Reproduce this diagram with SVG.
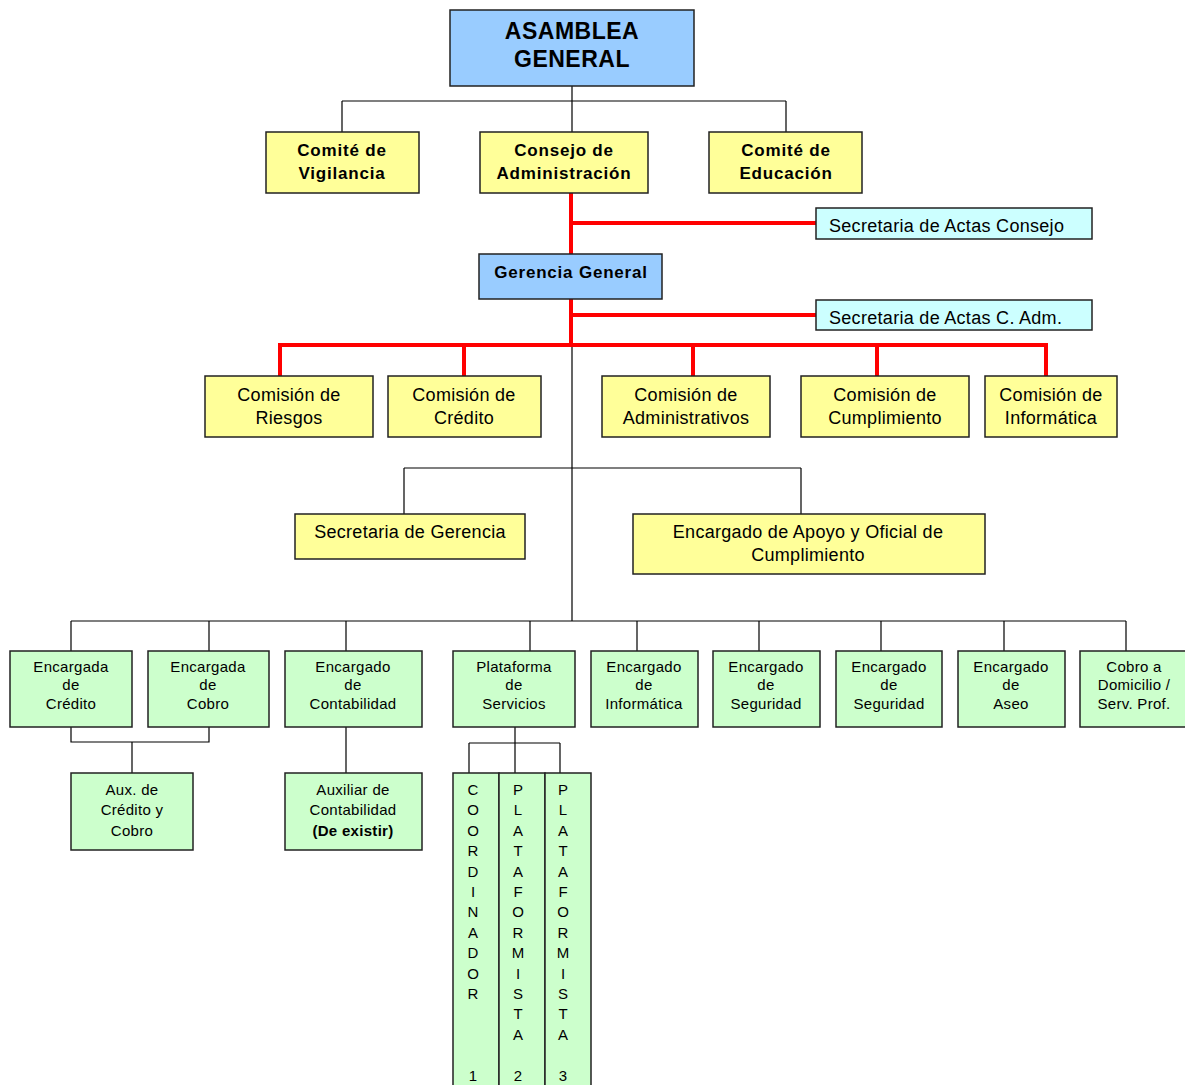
<svg xmlns="http://www.w3.org/2000/svg" width="1185" height="1085" viewBox="0 0 1185 1085">
<style>
.b{stroke:#222;stroke-width:1.5}
.blue{fill:#99ccff}.yel{fill:#ffff99}.cy{fill:#ccffff}.gr{fill:#ccffcc}
text{font-family:"Liberation Sans",Arial,sans-serif;fill:#000;text-anchor:middle}
.t1{font-size:23px;font-weight:bold;letter-spacing:0.5px}
.t2{font-size:17px;font-weight:bold;letter-spacing:0.8px}
.t3{font-size:18px;letter-spacing:0.3px}
.t4{font-size:15px;letter-spacing:0.3px}
.v{font-size:15px}
.k{fill:none;stroke:#000;stroke-width:1.2}
.r{fill:none;stroke:#ff0000;stroke-width:4}
</style>
<rect width="1185" height="1085" fill="#fff"/>
<g id="connectors">
<path class="k" d="M572 86V101M342 101H786M342 101V132M572 101V132M786 101V132"/>
<path class="k" d="M572 345V621M404 468H801M404 468V514M801 468V514"/>
<path class="k" d="M71 621H1126M71 621V651M209 621V651M346 621V651M530 621V651M637 621V651M759 621V651M881 621V651M1004 621V651M1126 621V651"/>
<path class="k" d="M71 727V742H209V727M132 742V773M346 727V773"/>
<path class="k" d="M515 727V743M469 743H560M469 743V773M515 743V773M560 743V773"/>
<path class="r" d="M571 193V254M571 223H816M571 299V345M571 315H816M280 376V345H1046V376M464 345V376M693 345V376M877 345V376"/>
</g>
<g id="asamblea"><rect class="b blue" x="450" y="10" width="244" height="76"/><text class="t1" x="572" y="39">ASAMBLEA</text><text class="t1" x="572" y="67">GENERAL</text></g>
<g id="vigilancia"><rect class="b yel" x="266" y="132" width="153" height="61"/><text class="t2" x="342" y="156">Comité de</text><text class="t2" x="342" y="179">Vigilancia</text></g>
<g id="consejo"><rect class="b yel" x="480" y="132" width="168" height="61"/><text class="t2" x="564" y="156">Consejo de</text><text class="t2" x="564" y="179">Administración</text></g>
<g id="educacion"><rect class="b yel" x="709" y="132" width="153" height="61"/><text class="t2" x="786" y="156">Comité de</text><text class="t2" x="786" y="179">Educación</text></g>
<g id="sec-consejo"><rect class="b cy" x="816" y="208" width="276" height="31"/><text class="t3" x="829" y="232" style="text-anchor:start">Secretaria de Actas Consejo</text></g>
<g id="gerencia"><rect class="b blue" x="479" y="254" width="183" height="45"/><text class="t2" x="571" y="278">Gerencia General</text></g>
<g id="sec-cadm"><rect class="b cy" x="816" y="300" width="276" height="30"/><text class="t3" x="829" y="324" style="text-anchor:start">Secretaria de Actas C. Adm.</text></g>
<g id="c-riesgos"><rect class="b yel" x="205" y="376" width="168" height="61"/><text class="t3" x="289" y="401">Comisión de</text><text class="t3" x="289" y="424">Riesgos</text></g>
<g id="c-credito"><rect class="b yel" x="388" y="376" width="153" height="61"/><text class="t3" x="464" y="401">Comisión de</text><text class="t3" x="464" y="424">Crédito</text></g>
<g id="c-admin"><rect class="b yel" x="602" y="376" width="168" height="61"/><text class="t3" x="686" y="401">Comisión de</text><text class="t3" x="686" y="424">Administrativos</text></g>
<g id="c-cumpl"><rect class="b yel" x="801" y="376" width="168" height="61"/><text class="t3" x="885" y="401">Comisión de</text><text class="t3" x="885" y="424">Cumplimiento</text></g>
<g id="c-info"><rect class="b yel" x="985" y="376" width="132" height="61"/><text class="t3" x="1051" y="401">Comisión de</text><text class="t3" x="1051" y="424">Informática</text></g>
<g id="sec-gerencia"><rect class="b yel" x="295" y="514" width="230" height="45"/><text class="t3" x="410" y="538">Secretaria de Gerencia</text></g>
<g id="apoyo"><rect class="b yel" x="633" y="514" width="352" height="60"/><text class="t3" x="808" y="538">Encargado de Apoyo y Oficial de</text><text class="t3" x="808" y="561">Cumplimiento</text></g>
<g id="e-credito"><rect class="b gr" x="10" y="651" width="122" height="76"/><text class="t4" x="71" y="672">Encargada</text><text class="t4" x="71" y="690">de</text><text class="t4" x="71" y="709">Crédito</text></g>
<g id="e-cobro"><rect class="b gr" x="148" y="651" width="121" height="76"/><text class="t4" x="208" y="672">Encargada</text><text class="t4" x="208" y="690">de</text><text class="t4" x="208" y="709">Cobro</text></g>
<g id="e-conta"><rect class="b gr" x="285" y="651" width="137" height="76"/><text class="t4" x="353" y="672">Encargado</text><text class="t4" x="353" y="690">de</text><text class="t4" x="353" y="709">Contabilidad</text></g>
<g id="plataforma"><rect class="b gr" x="453" y="651" width="122" height="76"/><text class="t4" x="514" y="672">Plataforma</text><text class="t4" x="514" y="690">de</text><text class="t4" x="514" y="709">Servicios</text></g>
<g id="e-info"><rect class="b gr" x="591" y="651" width="107" height="76"/><text class="t4" x="644" y="672">Encargado</text><text class="t4" x="644" y="690">de</text><text class="t4" x="644" y="709">Informática</text></g>
<g id="e-seg1"><rect class="b gr" x="713" y="651" width="107" height="76"/><text class="t4" x="766" y="672">Encargado</text><text class="t4" x="766" y="690">de</text><text class="t4" x="766" y="709">Seguridad</text></g>
<g id="e-seg2"><rect class="b gr" x="836" y="651" width="106" height="76"/><text class="t4" x="889" y="672">Encargado</text><text class="t4" x="889" y="690">de</text><text class="t4" x="889" y="709">Seguridad</text></g>
<g id="e-aseo"><rect class="b gr" x="958" y="651" width="107" height="76"/><text class="t4" x="1011" y="672">Encargado</text><text class="t4" x="1011" y="690">de</text><text class="t4" x="1011" y="709">Aseo</text></g>
<g id="cobro-dom"><rect class="b gr" x="1080" y="651" width="108" height="76"/><text class="t4" x="1134" y="672">Cobro a</text><text class="t4" x="1134" y="690">Domicilio /</text><text class="t4" x="1134" y="709">Serv. Prof.</text></g>
<g id="aux-cc"><rect class="b gr" x="71" y="773" width="122" height="77"/><text class="t4" x="132" y="795">Aux. de</text><text class="t4" x="132" y="815">Crédito y</text><text class="t4" x="132" y="836">Cobro</text></g>
<g id="aux-conta"><rect class="b gr" x="285" y="773" width="137" height="77"/><text class="t4" x="353" y="795">Auxiliar de</text><text class="t4" x="353" y="815">Contabilidad</text><text class="t4" x="353" y="836" font-weight="bold">(De existir)</text></g>
<g id="coordinador"><rect class="b gr" x="453" y="773" width="46" height="320"/>
<text class="v" x="473"><tspan x="473" y="795">C</tspan><tspan x="473" y="815.4">O</tspan><tspan x="473" y="835.8">O</tspan><tspan x="473" y="856.2">R</tspan><tspan x="473" y="876.6">D</tspan><tspan x="473" y="897">I</tspan><tspan x="473" y="917.4">N</tspan><tspan x="473" y="937.8">A</tspan><tspan x="473" y="958.2">D</tspan><tspan x="473" y="978.6">O</tspan><tspan x="473" y="999">R</tspan><tspan x="473" y="1081">1</tspan></text></g>
<g id="plataformista2"><rect class="b gr" x="499" y="773" width="46" height="320"/>
<text class="v" x="518"><tspan x="518" y="795">P</tspan><tspan x="518" y="815.4">L</tspan><tspan x="518" y="835.8">A</tspan><tspan x="518" y="856.2">T</tspan><tspan x="518" y="876.6">A</tspan><tspan x="518" y="897">F</tspan><tspan x="518" y="917.4">O</tspan><tspan x="518" y="937.8">R</tspan><tspan x="518" y="958.2">M</tspan><tspan x="518" y="978.6">I</tspan><tspan x="518" y="999">S</tspan><tspan x="518" y="1019.4">T</tspan><tspan x="518" y="1039.8">A</tspan><tspan x="518" y="1081">2</tspan></text></g>
<g id="plataformista3"><rect class="b gr" x="545" y="773" width="46" height="320"/>
<text class="v" x="563"><tspan x="563" y="795">P</tspan><tspan x="563" y="815.4">L</tspan><tspan x="563" y="835.8">A</tspan><tspan x="563" y="856.2">T</tspan><tspan x="563" y="876.6">A</tspan><tspan x="563" y="897">F</tspan><tspan x="563" y="917.4">O</tspan><tspan x="563" y="937.8">R</tspan><tspan x="563" y="958.2">M</tspan><tspan x="563" y="978.6">I</tspan><tspan x="563" y="999">S</tspan><tspan x="563" y="1019.4">T</tspan><tspan x="563" y="1039.8">A</tspan><tspan x="563" y="1081">3</tspan></text></g>
</svg>
